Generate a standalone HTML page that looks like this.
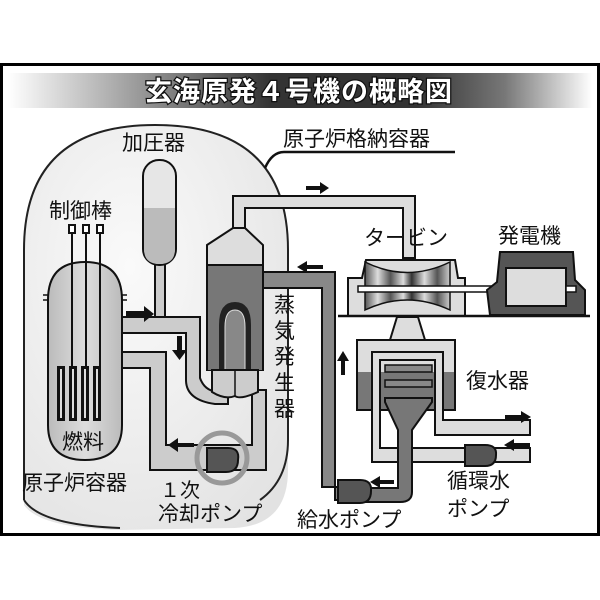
<!DOCTYPE html>
<html><head><meta charset="utf-8"><style>
body{margin:0;background:#fff}
svg{display:block}
text{font-family:"Liberation Sans","Noto Sans CJK JP",sans-serif;fill:#111}
</style></head><body>
<svg width="600" height="600" viewBox="0 0 600 600" xmlns="http://www.w3.org/2000/svg">
<defs>
<linearGradient id="tg" x1="0" x2="1" y1="0" y2="0">
<stop offset="0" stop-color="#fff"/><stop offset="0.3" stop-color="#777"/><stop offset="0.45" stop-color="#333"/><stop offset="0.7" stop-color="#333"/><stop offset="0.85" stop-color="#777"/><stop offset="1" stop-color="#fff"/>
</linearGradient>
<radialGradient id="cg" cx="0.4" cy="0.35" r="0.8"><stop offset="0" stop-color="#fafafa"/><stop offset="1" stop-color="#e2e2e2"/></radialGradient>
<linearGradient id="rv" x1="0" x2="1"><stop offset="0" stop-color="#bbb"/><stop offset="0.5" stop-color="#ddd"/><stop offset="1" stop-color="#bbb"/></linearGradient>
<linearGradient id="tb" x1="0" x2="1">
<stop offset="0" stop-color="#555"/><stop offset="0.15" stop-color="#ddd"/><stop offset="0.3" stop-color="#555"/><stop offset="0.45" stop-color="#ddd"/><stop offset="0.55" stop-color="#333"/><stop offset="0.7" stop-color="#ddd"/><stop offset="0.85" stop-color="#555"/><stop offset="1" stop-color="#ccc"/>
</linearGradient>
</defs>
<rect x="1.5" y="64.5" width="597" height="470" fill="#fff" stroke="#000" stroke-width="3"/>
<rect x="8" y="73" width="584" height="35" fill="url(#tg)"/>
<text x="299" y="101" text-anchor="middle" font-size="27" font-weight="bold" style="fill:#fff;stroke:#111;stroke-width:2.5;paint-order:stroke" letter-spacing="1">玄海原発４号機の概略図</text>

<!-- containment -->
<path d="M24 505 L24 250 Q24 125 155 125 Q288 125 288 250 L288 470 Q288 525 235 528 L120 530 Q40 528 24 505 Z" fill="url(#cg)" stroke="none"/>
<path d="M24 500 L24 250 Q24 125 155 125 Q288 125 288 250 L288 440 Q288 480 260 500" fill="none" stroke="#222" stroke-width="2"/>
<path d="M24 500 Q40 525 120 528" fill="none" stroke="#222" stroke-width="2"/>
<path d="M265 168 Q272 152 284 152 L455 152" fill="none" stroke="#111" stroke-width="2.5"/>
<text x="283" y="146" font-size="21">原子炉格納容器</text>
<text x="122" y="150" font-size="21">加圧器</text>
<text x="49" y="218" font-size="21">制御棒</text>

<!-- steam line -->
<path d="M233 232 L233 196 L415 196 L415 258 L403 258 L403 208 L245 208 L245 232 Z" fill="#ddd" stroke="#111" stroke-width="2"/>
<!-- feed line dark -->
<path d="M262 272 L335 272 L335 500 L345 500 L345 487 L322 487 L322 288 L262 288 Z" fill="#888" stroke="#111" stroke-width="2"/>

<!-- pressurizer -->
<rect x="155" y="250" width="10" height="75" fill="#ccc" stroke="#111" stroke-width="2"/>
<rect x="143" y="160" width="33" height="105" rx="16" fill="#e6e6e6" stroke="#111" stroke-width="2"/>
<path d="M144 208 L175 208 L175 249 Q175 264 159.5 264 Q144 264 144 249 Z" fill="#bbb"/>

<!-- primary piping -->
<path d="M120 317 L200 317 L200 378 Q205 392 220 392 L228 392 L228 404 L215 404 Q186 400 186 380 L186 333 L120 333 Z" fill="#ccc" stroke="#111" stroke-width="2"/>
<path d="M120 352 L166 352 L166 445 L252 445 L252 390 L266 390 L266 470 L150 470 L150 368 L120 368 Z" fill="#ccc" stroke="#111" stroke-width="2"/>

<!-- reactor -->
<path d="M48 300 Q48 262 85 262 Q122 262 122 300 L122 425 Q122 460 85 460 Q48 460 48 425 Z" fill="url(#rv)" stroke="#111" stroke-width="2"/>
<path d="M43 295 h6 M43 300 h6 M121 295 h6 M121 300 h6" stroke="#111" stroke-width="1.5"/>
<g fill="#111">
<rect x="57" y="366" width="8" height="55"/><rect x="69" y="366" width="8" height="55"/><rect x="81" y="366" width="8" height="55"/><rect x="93" y="366" width="8" height="55"/>
</g>
<g fill="#ddd"><rect x="60" y="369" width="2" height="49"/><rect x="72" y="369" width="2" height="49"/><rect x="84" y="369" width="2" height="49"/><rect x="96" y="369" width="2" height="49"/></g>
<g stroke="#111" stroke-width="2" fill="#fff">
<line x1="72" y1="233" x2="72" y2="366"/><line x1="86" y1="233" x2="86" y2="366"/><line x1="100" y1="233" x2="100" y2="366"/>
<rect x="69" y="225" width="6" height="8"/><rect x="83" y="225" width="6" height="8"/><rect x="97" y="225" width="6" height="8"/>
</g>
<text x="62" y="449" font-size="21">燃料</text>
<text x="22" y="490" font-size="21">原子炉容器</text>

<!-- steam generator -->
<path d="M207 245 L233 228 L245 228 L263 245 L263 370 L207 370 Z" fill="#ddd" stroke="#111" stroke-width="2"/>
<rect x="208" y="265" width="54" height="105" fill="#777"/>
<line x1="207" y1="265" x2="263" y2="265" stroke="#111" stroke-width="2"/>
<path d="M219 370 L219 325 Q219 302 235 302 Q251 302 251 325 L251 370 Z" fill="#222"/>
<path d="M225 370 L225 327 Q225 310 235 310 Q245 310 245 327 L245 370 Z" fill="#888" stroke="#ddd" stroke-width="1"/>
<path d="M212 370 L258 370 L258 392 Q240 400 235 396 Q225 400 212 392 Z" fill="#ccc" stroke="#111" stroke-width="2"/>
<line x1="235" y1="370" x2="235" y2="396" stroke="#111" stroke-width="1.5"/>
<text font-size="21" x="274" y="312">蒸</text><text font-size="21" x="274" y="338">気</text><text font-size="21" x="274" y="364">発</text><text font-size="21" x="274" y="390">生</text><text font-size="21" x="274" y="416">器</text>

<!-- primary pump -->
<circle cx="222" cy="458" r="25" fill="none" stroke="#999" stroke-width="5"/>
<path d="M207 448 L228 448 Q240 448 238 460 Q238 472 226 472 L207 472 Z" fill="#555" stroke="#111" stroke-width="2"/>
<text x="160" y="497" font-size="20">１次</text>
<text x="158" y="521" font-size="21">冷却ポンプ</text>

<!-- turbine -->
<path d="M348 315 L348 278 L362 278 L366 260 L455 260 L458 278 L465 278 L465 315" fill="#ddd" stroke="#111" stroke-width="2"/>
<path d="M365 262 Q407 283 450 262 L450 310 Q407 290 365 310 Z" fill="url(#tb)" stroke="#111" stroke-width="1.5"/>
<rect x="358" y="286" width="218" height="6" fill="#fff" stroke="#111" stroke-width="1.5"/>
<line x1="338" y1="316" x2="590" y2="316" stroke="#111" stroke-width="2.5"/>
<text x="364" y="245" font-size="21">タービン</text>
<!-- generator -->
<path d="M490 315 L487 290 L497 282 L500 252 L573 252 L575 280 L585 290 L585 315 Z" fill="#555" stroke="#111" stroke-width="2"/>
<rect x="506" y="268" width="60" height="38" fill="#ddd" stroke="#111" stroke-width="2"/>
<rect x="566" y="286" width="10" height="6" fill="#fff" stroke="#111" stroke-width="1.5"/>
<text x="498" y="243" font-size="21">発電機</text>

<!-- condenser -->
<path d="M397 317 L418 317 L425 340 L390 340 Z" fill="#ddd" stroke="#111" stroke-width="2"/>
<rect x="357" y="340" width="98" height="70" fill="#ddd" stroke="#111" stroke-width="2"/>
<rect x="358" y="372" width="96" height="37" fill="#777"/>
<path d="M372 352 L443 352 L443 420 L530 420 L530 435 L435 435 L435 360 L380 360 L380 448 L530 448 L530 462 L372 462 Z" fill="#ddd" stroke="#111" stroke-width="2"/>
<rect x="385" y="365" width="47" height="7" fill="#888" stroke="#111" stroke-width="1.5"/>
<rect x="385" y="380" width="47" height="7" fill="#888" stroke="#111" stroke-width="1.5"/>
<path d="M385 398 L432 398 L432 402 L412 430 L412 492 Q412 502 400 502 L365 502 L365 488 L398 488 L398 430 L385 402 Z" fill="#777" stroke="#111" stroke-width="2"/>
<path d="M465 445 L485 445 Q497 445 496 455 Q496 466 485 466 L465 466 Z" fill="#555" stroke="#111" stroke-width="2"/>
<path d="M338 480 L360 480 Q372 480 371 491 Q371 503 360 503 L338 503 Z" fill="#555" stroke="#111" stroke-width="2"/>
<text x="466" y="388" font-size="21">復水器</text>
<text x="447" y="488" font-size="21">循環水</text>
<text x="447" y="516" font-size="21">ポンプ</text>
<text x="297" y="527" font-size="21">給水ポンプ</text>

<!-- arrows -->
<g fill="#111">
<path d="M126 311 h18 v-5 l10 8 l-10 8 v-5 h-18 z"/>
<path d="M177 336 h5 v14 h5 l-7.5 10 l-7.5 -10 h5 z"/>
<path d="M194 443 h-16 v-5 l-10 7 l10 7 v-5 h16 z"/>
<path d="M320 190 h-14 v-4 h14 v-4 l9 6 l-9 6 z"/>
<path d="M323 265 h-16 v-4 l-10 6 l10 6 v-4 h16 z"/>
<path d="M341 375 v-14 h-4 l6 -10 l6 10 h-4 v14 z"/>
<path d="M505 415 h16 v-4 l10 6 l-10 6 v-4 h-16 z"/>
<path d="M530 443 h-16 v-4 l-10 6 l10 6 v-4 h16 z"/>
<path d="M394 480 h-14 v-4 l-10 6 l10 6 v-4 h14 z"/>
</g>
</svg>
</body></html>
